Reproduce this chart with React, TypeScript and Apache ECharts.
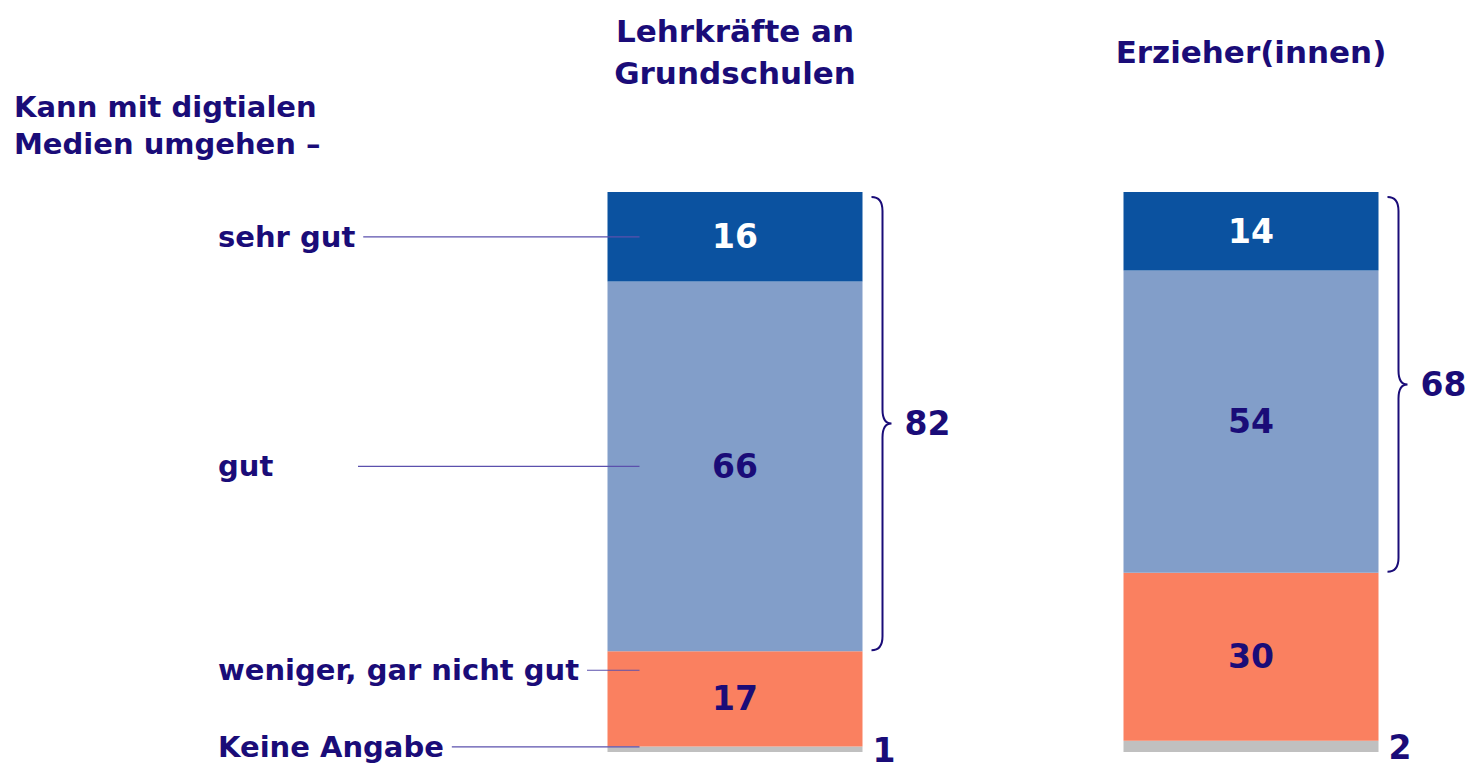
import React, { useEffect, useRef } from "react";
import * as echarts from "echarts";

const groups = ["Lehrkräfte an\nGrundschulen", "Erzieher(innen)"];
const answerLabels = ["sehr gut", "gut", "weniger, gar nicht gut", "Keine Angabe"];
const sehrGut = [16, 14];
const gut = [66, 54];
const wenigerGut = [17, 30];
const keineAngabe = [1, 2];
// value positions (on first bar) where the left-side answer labels point
const leaderAt = [92, 51, 14.6, 0.9];
const heading = "Kann mit digtialen\nMedien umgehen –";

const NAVY = "#1a0c78";
const LEADER = "#5b50ad";
const FONT = "DejaVu Sans";
const C_SEHR = "#0b52a0";
const C_GUT = "#829ec9";
const C_WENIG = "#fa8060";
const C_KEINE = "#c0c0c0";
const BAR_W = 255;

function measure(t: string, font: string): number {
  const c = document.createElement("canvas").getContext("2d");
  if (!c) return t.length * 18;
  c.font = font;
  return c.measureText(t).width;
}

export default function App() {
  const ref = useRef<HTMLDivElement>(null);
  useEffect(() => {
    if (!ref.current) return;
    const chart = echarts.init(ref.current, null, { renderer: "svg" });
    const labelFont = `bold 29px "${FONT}"`;
    const valLabel = (color: string) => ({
      show: true,
      position: "inside",
      color,
      fontSize: 33,
      fontWeight: "bold",
      fontFamily: FONT,
    });
    const totals = groups.map((_, i) => sehrGut[i] + gut[i] + wenigerGut[i] + keineAngabe[i]);
    const braceData = groups.map((_, i) => [
      i,
      wenigerGut[i] + keineAngabe[i],
      totals[i],
      sehrGut[i] + gut[i],
    ]);
    const leaderData = answerLabels.map((_, k) => [0, leaderAt[k], k]);
    const barBase = { type: "bar", stack: "a", barWidth: BAR_W, clip: false };

    chart.setOption({
      animation: false,
      backgroundColor: "#ffffff",
      grid: { left: 735, top: 192, width: 516, height: 560 },
      xAxis: {
        type: "category",
        data: groups,
        boundaryGap: false,
        position: "top",
        axisLine: { show: false },
        axisTick: { show: false },
        splitLine: { show: false },
        axisLabel: {
          margin: 140,
          verticalAlign: "middle",
          fontSize: 31,
          lineHeight: 42,
          fontWeight: "bold",
          fontFamily: FONT,
          color: NAVY,
        },
      },
      yAxis: { type: "value", min: 0, max: 100, show: false },
      graphic: [
        {
          type: "text",
          left: 14,
          top: 88,
          style: {
            text: heading,
            fontSize: 29,
            fontWeight: "bold",
            fontFamily: FONT,
            lineHeight: 37,
            fill: NAVY,
          },
        },
      ],
      series: [
        {
          ...barBase,
          name: "Keine Angabe",
          data: keineAngabe,
          itemStyle: { color: C_KEINE },
          label: { ...valLabel(NAVY), position: "right", distance: 10, offset: [0, 1] },
        },
        {
          ...barBase,
          name: "weniger, gar nicht gut",
          data: wenigerGut,
          itemStyle: { color: C_WENIG },
          label: valLabel(NAVY),
        },
        {
          ...barBase,
          name: "gut",
          data: gut,
          itemStyle: { color: C_GUT },
          label: valLabel(NAVY),
        },
        {
          ...barBase,
          name: "sehr gut",
          data: sehrGut,
          itemStyle: { color: C_SEHR },
          label: valLabel("#ffffff"),
        },
        {
          type: "custom",
          data: braceData,
          encode: { x: 0, y: [1, 2] },
          clip: false,
          z: 5,
          renderItem: (params: any, api: any) => {
            const i = api.value(0);
            const lo = api.value(1);
            const hi = api.value(2);
            const v = api.value(3);
            const top = api.coord([i, hi]);
            const bot = api.coord([i, lo]);
            const xr = top[0] + BAR_W / 2;
            const y0 = top[1] + 5;
            const y1 = bot[1] - 1;
            const ym = (y0 + y1) / 2;
            const x0 = xr + 9;
            const x1 = xr + 20;
            const x2 = xr + 29;
            const r = 14;
            const d =
              `M${x0},${y0} Q${x1},${y0} ${x1},${y0 + r} L${x1},${ym - r} ` +
              `Q${x1},${ym} ${x2},${ym} Q${x1},${ym} ${x1},${ym + r} ` +
              `L${x1},${y1 - r} Q${x1},${y1} ${x0},${y1}`;
            return {
              type: "group",
              children: [
                {
                  type: "path",
                  shape: { pathData: d },
                  style: { fill: "none", stroke: NAVY, lineWidth: 2 },
                },
                {
                  type: "text",
                  style: {
                    text: String(v),
                    x: xr + 42,
                    y: ym,
                    fill: NAVY,
                    font: `bold 33px "${FONT}"`,
                    align: "left",
                    verticalAlign: "middle",
                    textAlign: "left",
                    textVerticalAlign: "middle",
                  },
                },
              ],
            };
          },
        },
        {
          type: "custom",
          data: leaderData,
          encode: { x: 0, y: 1 },
          clip: false,
          z: 6,
          renderItem: (params: any, api: any) => {
            const k = api.value(2);
            const p = api.coord([api.value(0), api.value(1)]);
            const text = answerLabels[k];
            const tx = 218;
            const w = measure(text, labelFont);
            const ls = Math.max(358, tx + w + 8);
            const le = p[0] - BAR_W / 2 + 32;
            return {
              type: "group",
              children: [
                {
                  type: "text",
                  style: {
                    text,
                    x: tx,
                    y: p[1],
                    fill: NAVY,
                    font: labelFont,
                    align: "left",
                    verticalAlign: "middle",
                    textAlign: "left",
                    textVerticalAlign: "middle",
                  },
                },
                {
                  type: "line",
                  shape: { x1: ls, y1: p[1], x2: le, y2: p[1] },
                  style: { stroke: LEADER, lineWidth: 1.2 },
                },
              ],
            };
          },
        },
      ],
    });
    return () => chart.dispose();
  }, []);
  return (
    <div
      ref={ref}
      style={{ position: "fixed", left: 0, top: 0, width: 1467, height: 765, background: "#fff" }}
    />
  );
}
